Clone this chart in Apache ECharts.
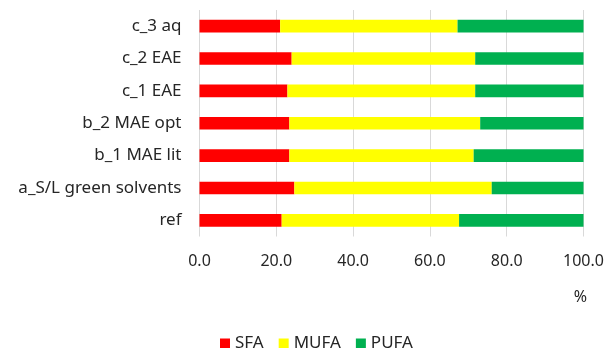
<!DOCTYPE html>
<html>
<head>
<meta charset="utf-8">
<script src="https://cdn.jsdelivr.net/npm/echarts@6/dist/echarts.min.js"></script>
<style>
  html, body { margin: 0; padding: 0; background: #fff; }
  #chart { width: 608px; height: 348px; }
</style>
</head>
<body>
<div id="chart"></div>
<script>
// Fatty acid profile (%) per extraction method
const categories = ['ref', 'a_S/L green solvents', 'b_1 MAE lit', 'b_2 MAE opt', 'c_1 EAE', 'c_2 EAE', 'c_3 aq'];
const sfa  = [21.4, 24.7, 23.4, 23.4, 22.9, 24.0, 21.0];
const mufa = [46.2, 51.4, 48.0, 49.7, 48.9, 47.8, 46.2];
const pufa = [32.4, 23.9, 28.6, 26.9, 28.2, 28.2, 32.8];
const seriesNames = ['SFA', 'MUFA', 'PUFA'];
const colors = ['#ff0000', '#ffff00', '#00b050'];

const font = 'Noto Sans';
const textColor = '#262626';

const chart = echarts.init(document.getElementById('chart'));
const values = [sfa, mufa, pufa];
chart.setOption({
  animation: false,
  textStyle: { fontFamily: font },
  grid: { left: 199.5, right: 24.5, top: 10, bottom: 111.5 },
  legend: {
    top: 330,
    left: 215,
    icon: 'rect',
    itemWidth: 10,
    itemHeight: 10,
    itemGap: 15,
    textStyle: { fontFamily: font, fontSize: 17, color: textColor },
    data: seriesNames
  },
  xAxis: {
    type: 'value',
    min: 0,
    max: 100,
    interval: 20,
    name: '%',
    nameLocation: 'end',
    nameGap: -3,
    nameTextStyle: {
      fontFamily: font, fontSize: 16, color: textColor,
      verticalAlign: 'top', align: 'center', padding: [53, 0, 0, 0]
    },
    axisLine: { show: false },
    axisTick: { show: false },
    axisLabel: {
      margin: 17,
      fontFamily: font, fontSize: 16, color: textColor,
      formatter: v => v.toFixed(1)
    },
    splitLine: { lineStyle: { color: '#d9d9d9', width: 1 } }
  },
  yAxis: {
    type: 'category',
    data: categories,
    axisLine: { show: false },
    axisTick: { show: false },
    axisLabel: { margin: 18, fontFamily: font, fontSize: 17, color: textColor }
  },
  series: seriesNames.map((name, i) => ({
    name,
    type: 'bar',
    stack: 'total',
    barWidth: '39%',
    itemStyle: { color: colors[i] },
    data: values[i]
  }))
});
</script>
</body>
</html>
